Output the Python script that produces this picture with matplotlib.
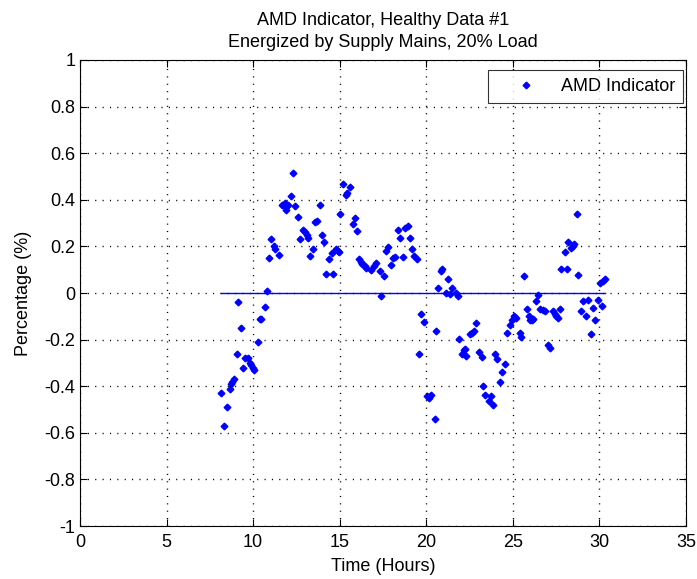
import numpy as np
import matplotlib
matplotlib.use("Agg")
import matplotlib.pyplot as plt

plt.rcParams['font.family'] = ['Liberation Sans', 'DejaVu Sans']

# Time (hours) and AMD indicator (%)
time_hours = [
    8.15, 8.31, 8.50, 8.66, 8.72, 8.79, 8.87, 9.05, 9.14, 9.29,
    9.42, 9.55, 9.68, 9.80, 9.88, 9.97, 10.05, 10.29, 10.40, 10.46,
    10.66, 10.82, 10.91, 11.02, 11.19, 11.29, 11.48, 11.67, 11.82, 11.92,
    11.87, 12.00, 12.21, 12.31, 12.44, 12.60, 12.69, 12.89, 12.98, 13.12,
    13.17, 13.27, 13.43, 13.60, 13.68, 13.85, 13.98, 14.08, 14.20, 14.39,
    14.56, 14.64, 14.77, 14.89, 14.96, 15.04, 15.19, 15.38, 15.44, 15.62,
    15.77, 15.91, 16.02, 16.12, 16.25, 16.31, 16.44, 16.54, 16.80, 16.96,
    17.12, 17.33, 17.37, 17.54, 17.69, 17.79, 17.95, 18.08, 18.19, 18.35,
    18.50, 18.65, 18.77, 18.94, 19.08, 19.16, 19.29, 19.46, 19.58, 19.72,
    19.87, 20.04, 20.16, 20.25, 20.48, 20.54, 20.70, 20.83, 20.93, 21.12,
    21.25, 21.35, 21.50, 21.70, 21.83, 21.89, 22.08, 22.18, 22.23, 22.31,
    22.50, 22.64, 22.74, 22.89, 23.03, 23.20, 23.27, 23.42, 23.62, 23.71,
    23.85, 23.99, 24.06, 24.25, 24.39, 24.56, 24.66, 24.81, 24.95, 25.06,
    25.20, 25.39, 25.49, 25.64, 25.81, 25.93, 26.00, 26.08, 26.16, 26.35,
    26.45, 26.58, 26.73, 26.87, 27.02, 27.16, 27.31, 27.41, 27.50, 27.60,
    27.74, 27.80, 27.99, 28.14, 28.18, 28.37, 28.47, 28.56, 28.70, 28.79,
    28.95, 29.08, 29.20, 29.33, 29.53, 29.62, 29.77, 29.91, 30.06, 30.16,
    30.20, 30.33,
]
amd_pct = [
    -0.43, -0.57, -0.49, -0.41, -0.39, -0.38, -0.37, -0.26, -0.04, -0.15,
    -0.32, -0.28, -0.28, -0.30, -0.31, -0.32, -0.33, -0.21, -0.11, -0.11,
    -0.06, 0.01, 0.15, 0.23, 0.20, 0.19, 0.165, 0.376, 0.385, 0.37,
    0.355, 0.376, 0.418, 0.516, 0.372, 0.327, 0.231, 0.272, 0.261, 0.251,
    0.237, 0.158, 0.190, 0.304, 0.311, 0.376, 0.250, 0.220, 0.080, 0.145,
    0.171, 0.080, 0.187, 0.182, 0.175, 0.340, 0.467, 0.421, 0.43, 0.456,
    0.298, 0.322, 0.267, 0.145, 0.135, 0.125, 0.115, 0.106, 0.099, 0.115,
    0.129, 0.094, -0.015, 0.075, 0.179, 0.197, 0.122, 0.151, 0.155, 0.272,
    0.237, 0.154, 0.280, 0.287, 0.238, 0.190, 0.158, 0.144, -0.261, -0.088,
    -0.125, -0.440, -0.450, -0.436, -0.540, -0.161, 0.020, 0.094, 0.104, 0.001,
    0.058, -0.006, 0.022, -0.002, -0.011, -0.197, -0.260, -0.245, -0.242, -0.271,
    -0.178, -0.171, -0.164, -0.130, -0.254, -0.274, -0.400, -0.436, -0.464, -0.443,
    -0.479, -0.260, -0.285, -0.381, -0.338, -0.303, -0.171, -0.139, -0.114, -0.100,
    -0.106, -0.171, -0.190, 0.075, -0.068, -0.100, -0.117, -0.115, -0.111, -0.035,
    -0.009, -0.068, -0.074, -0.078, -0.221, -0.235, -0.078, -0.088, -0.097, -0.106,
    -0.068, 0.105, 0.177, 0.105, 0.221, 0.192, 0.201, 0.211, 0.340, 0.079,
    -0.076, -0.035, -0.100, -0.028, -0.178, -0.064, -0.118, -0.028, 0.044, -0.057,
    0.051, 0.058,
]

x_ticks = [0, 5, 10, 15, 20, 25, 30, 35]
y_ticks = [-1, -0.8, -0.6, -0.4, -0.2, 0, 0.2, 0.4, 0.6, 0.8, 1]
y_labels = ['-1', '-0.8', '-0.6', '-0.4', '-0.2', '0', '0.2', '0.4', '0.6', '0.8', '1']

fs = 13

fig = plt.figure(figsize=(6.97, 5.79), dpi=100)
ax = fig.add_axes([0.1148, 0.0915, 0.8694, 0.8049])

ax.plot(time_hours, amd_pct, linestyle='none', marker='D', markersize=3.4,
        color='blue', label='AMD Indicator')
# zero reference line across the data span
ax.plot([min(time_hours), max(time_hours)], [0, 0], color='blue', linewidth=1)

ax.set_xlim(0, 35)
ax.set_ylim(-1, 1)
ax.set_xticks(x_ticks)
ax.set_yticks(y_ticks)
ax.set_yticklabels(y_labels)
ax.tick_params(direction='in', top=True, right=True, labelsize=fs, length=5)
ax.tick_params(axis='x', pad=6)
ax.grid(True, linestyle=(0, (0.8, 4.5)), color='black', linewidth=1.0)
for s in ax.spines.values():
    s.set_linewidth(0.8)

ax.set_xlabel('Time (Hours)', fontsize=fs, labelpad=5)
ax.set_ylabel('Percentage (%)', fontsize=fs, labelpad=9)
ax.set_title('AMD Indicator, Healthy Data #1\nEnergized by Supply Mains, 20% Load',
             fontsize=fs, linespacing=1.45, pad=9)

leg = ax.legend(loc='upper right', bbox_to_anchor=(0.995, 0.9785),
                borderaxespad=0, fancybox=False, edgecolor='black',
                fontsize=fs, handlelength=3.3, handletextpad=0.25,
                borderpad=0.45)
leg.get_frame().set_linewidth(0.8)

fig.savefig('out.png', dpi=100)
